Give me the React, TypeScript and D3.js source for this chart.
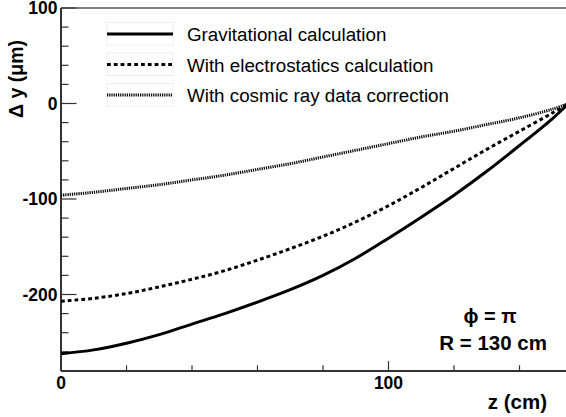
import React from "react";
import * as d3 from "d3";

const zValues = [0, 10, 20, 30, 40, 50, 60, 70, 80, 90, 100, 110, 120, 130, 140, 150, 155];
const gravitational = [-262, -258, -251, -242, -231, -220, -208, -195, -180, -162, -141, -119, -96, -71, -44, -16, 0];
const electrostatics = [-207, -204, -199, -192, -184, -175, -164, -152, -139, -124, -107, -88, -68, -48, -29, -10, 0];
const cosmicRay = [-96, -93, -89, -85, -80, -75, -69, -63, -56, -49, -42, -35, -29, -22, -15, -6, 0];

const legendLabels = [
  "Gravitational calculation",
  "With electrostatics calculation",
  "With cosmic ray data correction",
];
const yMajorTicks = [100, 0, -100, -200];
const yMinorTicks = d3.range(-280, 101, 20);
const xMajorTicks = [0, 100];
const xMinorTicks = d3.range(0, 161, 20);

const FONT = "'Liberation Sans', Arial, Helvetica, sans-serif";

export default function App() {
  const W = 566;
  const H = 417;
  const x = d3.scaleLinear().domain([0, 160]).range([61, 61 + 160 * 3.275]);
  const y = d3.scaleLinear().domain([-280, 100]).range([370.9, 8]);
  const line = d3
    .line<number>()
    .x((_, i) => x(zValues[i]))
    .y((d) => y(d))
    .curve(d3.curveCatmullRom.alpha(0.5));

  const series = [
    { values: gravitational, dash: undefined, width: 3 },
    { values: electrostatics, dash: "3.8,3", width: 3 },
    { values: cosmicRay, dash: "1.2,1", width: 3 },
  ];

  const axisColor = "#333";
  const x0 = x(0);
  const yBottom = y(-280);
  const yTop = y(100);

  return (
    <svg
      width={W}
      height={H}
      style={{ position: "absolute", left: 0, top: 0, background: "#fff" }}
      fontFamily={FONT}
    >
      <rect x={0} y={0} width={W} height={H} fill="#fff" />
      <defs>
        <clipPath id="plotclip">
          <rect x={x0} y={yTop} width={W - x0} height={yBottom - yTop} />
        </clipPath>
      </defs>

      {/* frame */}
      <line x1={x0} x2={W} y1={yTop} y2={yTop} stroke="#555" strokeWidth={1.5} />
      <line x1={x0} x2={x0} y1={yTop} y2={yBottom} stroke={axisColor} strokeWidth={2} />
      <line x1={x0} x2={W} y1={yBottom} y2={yBottom} stroke={axisColor} strokeWidth={2} />

      {/* y ticks */}
      {yMinorTicks.map((t) => (
        <line
          key={"ym" + t}
          x1={x0}
          x2={x0 + (yMajorTicks.includes(t) ? 15.5 : 7.5)}
          y1={y(t)}
          y2={y(t)}
          stroke={axisColor}
          strokeWidth={1.2}
        />
      ))}
      {yMajorTicks.map((t) => (
        <text
          key={"yl" + t}
          x={57.5}
          y={y(t) + 6.3}
          textAnchor="end"
          fontWeight="bold"
          fontSize={17.5}
          fill="#000"
        >
          {t}
        </text>
      ))}

      {/* x ticks */}
      {xMinorTicks.map((t) => (
        <line
          key={"xm" + t}
          x1={x(t)}
          x2={x(t)}
          y1={yBottom}
          y2={yBottom - (xMajorTicks.includes(t) ? 10 : 5.7)}
          stroke={axisColor}
          strokeWidth={1.2}
        />
      ))}
      {xMajorTicks.map((t) => (
        <text
          key={"xl" + t}
          x={x(t)}
          y={389}
          textAnchor="middle"
          fontWeight="bold"
          fontSize={17.5}
          fill="#000"
        >
          {t}
        </text>
      ))}

      {/* axis titles */}
      <text
        transform="translate(23,40) rotate(-90)"
        textAnchor="end"
        fontWeight="bold"
        fontSize={19.5}
        fill="#000"
      >
        Δ y (μm)
      </text>
      <text x={547} y={409} textAnchor="end" fontWeight="bold" fontSize={20.5} fill="#000">
        z (cm)
      </text>

      {/* curves */}
      <g clipPath="url(#plotclip)">
        {series.map((s, i) => (
          <path
            key={"s" + i}
            d={line(s.values) || ""}
            fill="none"
            stroke="#000"
            strokeWidth={s.width}
            strokeDasharray={s.dash}
          />
        ))}
      </g>

      {/* legend */}
      {legendLabels.map((lab, i) => {
        const cy = 34 + i * 30.5;
        const s = series[i];
        return (
          <g key={"lg" + i}>
            <rect
              x={107}
              y={cy - 11.5}
              width={66}
              height={22.5}
              fill="#fff"
              stroke="#eee"
              strokeWidth={1}
            />
            <line
              x1={107}
              x2={173}
              y1={cy}
              y2={cy}
              stroke="#000"
              strokeWidth={s.width}
              strokeDasharray={s.dash}
            />
            <text x={187} y={cy + 7} fontSize={18.8} fill="#000">
              {lab}
            </text>
          </g>
        );
      })}

      {/* annotations */}
      <text x={490} y={323} textAnchor="middle" fontWeight="bold" fontSize={20} fill="#000">
        ϕ = π
      </text>
      <text x={547} y={350} textAnchor="end" fontWeight="bold" fontSize={20.5} fill="#000">
        R = 130 cm
      </text>
    </svg>
  );
}
